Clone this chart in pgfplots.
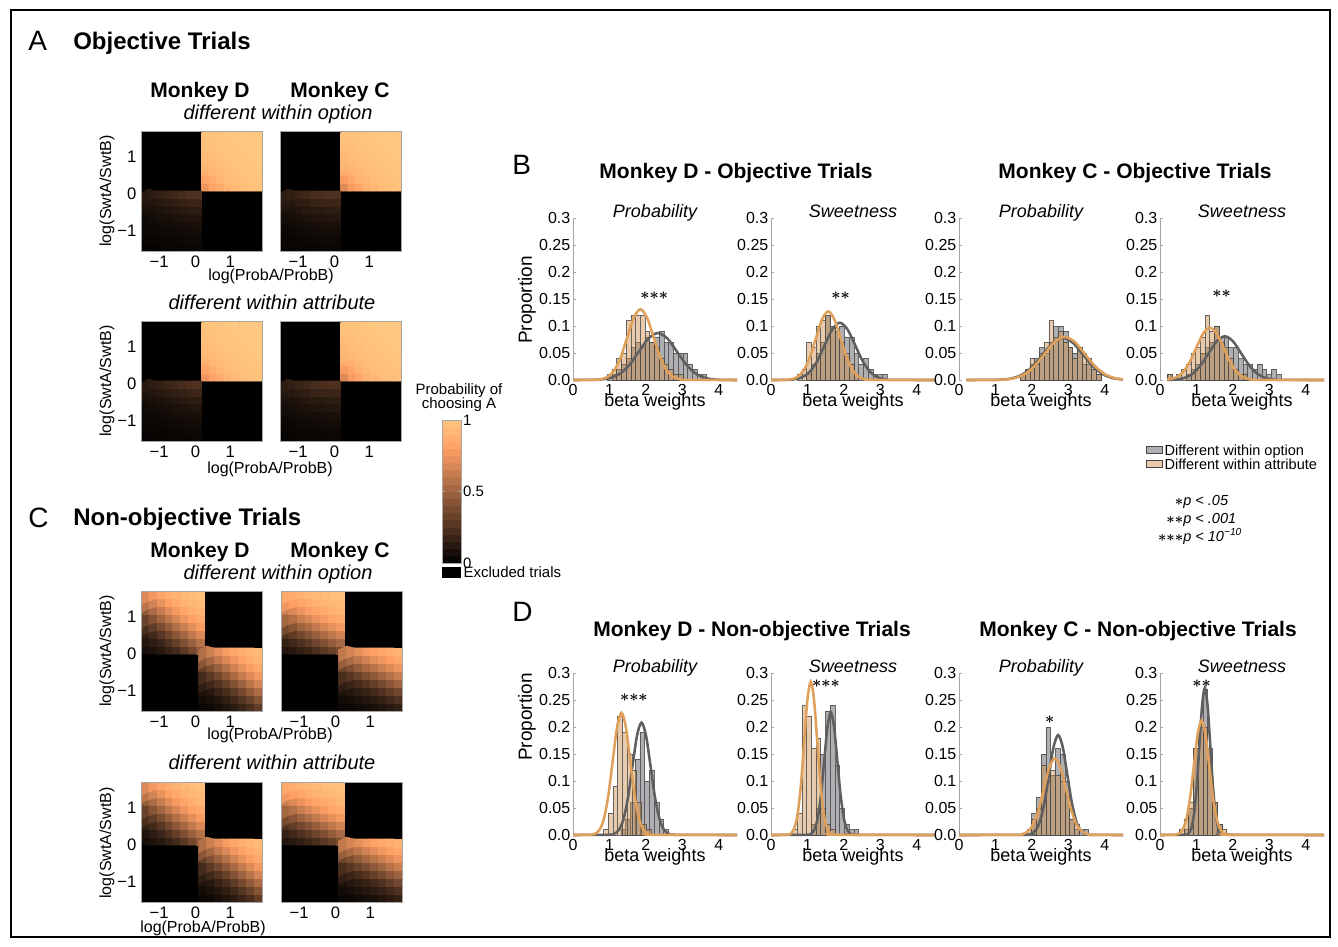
\documentclass[border=0pt]{standalone}
\usepackage{fontspec}
\setmainfont{Liberation Sans}
\usepackage{pgfplots}
\pgfplotsset{compat=1.18}
\usepackage{pgfplotstable}
\newcommand{\fs}[1]{\fontsize{#1}{#1}\selectfont}
\newcommand{\st}[1]{{\boldmath$#1$}}
\definecolor{gbar}{RGB}{122,122,128}
\definecolor{gedge}{RGB}{70,70,70}
\definecolor{tbar}{RGB}{205,140,70}
\definecolor{gcurve}{RGB}{95,95,95}
\definecolor{tcurve}{RGB}{222,160,90}
\definecolor{axgray}{RGB}{165,165,165}
\tikzset{sig/.style={font=\fs{13}, inner sep=0pt}}
\pgfplotsset{colormap={copper}{rgb(0cm)=(0,0,0); rgb(8cm)=(1,0.625,0.398); rgb(10cm)=(1,0.7812,0.4975)}}
\pgfplotsset{
heat/.style={scale only axis, width=90.75pt, height=90pt, anchor=south west,
  xmin=0,xmax=16,ymin=0,ymax=16, axis background/.style={fill=black}, axis on top,
  axis line style={axgray, line width=0.4pt},
  xtick={2.4,7.2,11.8}, xticklabels={−1,0,1},
  ytick={2.7,7.6,12.6}, yticklabels={−1,0,1},
  major tick length=0pt, tick label style={font=\fs{12.5}},
  colormap name=copper, point meta min=0, point meta max=1},
hist/.style={scale only axis, width=123pt, height=121.5pt, anchor=south west,
  xmin=0,xmax=4.5,ymin=0,ymax=0.3,
  axis x line*=bottom, axis y line*=left,
  x axis line style={draw=none}, y axis line style={draw=axgray, line width=0.6pt},
  xtick={0,1,2,3,4}, xticklabels={0,1,2,3,4},
  ytick={0,0.05,0.1,0.15,0.2,0.25,0.3}, yticklabels={0.0,0.05,0.1,0.15,0.2,0.25,0.3},
  xtick style={draw=none}, ytick style={draw=axgray, line width=0.6pt},
  tick align=inside, major tick length=2.5pt,
  tick label style={font=\fs{12}}, yticklabel style={xshift=1.5pt},
  xlabel={beta weights},
  xlabel style={at={(axis description cs:0.5,0)}, anchor=base, yshift=-19.5pt, font=\fs{13.5}},
  title style={at={(axis description cs:0.5,1)}, anchor=base, yshift=-5.5pt, font=\fs{13.5}\itshape},
  clip=false},
gb/.style={ybar, bar width=0.13, bar shift=0pt, fill=gbar, fill opacity=0.6, draw=gedge, draw opacity=0.8, line width=0.4pt},
tb/.style={ybar, bar width=0.13, bar shift=0pt, fill=tbar, fill opacity=0.45, draw=gedge, draw opacity=0.8, line width=0.4pt},
gl/.style={gcurve, line width=1.9pt, smooth},
tl/.style={tcurve, line width=1.9pt, smooth}
}
\newcommand{\hq}[4]{\addplot[matrix plot*, mesh/cols=8, point meta=explicit] table[x index=0, y index=0, x expr={#2+#4*(mod(\coordindex,8)+0.5)}, y expr={#3+#4*(floor(\coordindex/8)+0.5)}, meta index=0] {#1};}

% Panel A quadrants (8x8 cells, rows bottom to top)
\pgfplotstableread[row sep=\\,header=false]{
0.75\\0.82\\0.87\\0.91\\0.94\\0.96\\0.97\\0.98\\
0.82\\0.87\\0.91\\0.94\\0.96\\0.97\\0.98\\0.99\\
0.87\\0.91\\0.94\\0.96\\0.97\\0.98\\0.99\\0.99\\
0.91\\0.94\\0.96\\0.97\\0.98\\0.99\\0.99\\1\\
0.94\\0.96\\0.97\\0.98\\0.99\\0.99\\1\\1\\
0.96\\0.97\\0.98\\0.99\\0.99\\1\\1\\1\\
0.97\\0.98\\0.99\\0.99\\1\\1\\1\\1\\
0.98\\0.99\\0.99\\1\\1\\1\\1\\1\\
}\ATRd
\pgfplotstableread[row sep=\\,header=false]{
0.70\\0.78\\0.84\\0.89\\0.92\\0.95\\0.96\\0.97\\
0.78\\0.84\\0.89\\0.92\\0.95\\0.96\\0.97\\0.98\\
0.85\\0.89\\0.92\\0.95\\0.96\\0.97\\0.98\\0.99\\
0.90\\0.93\\0.95\\0.96\\0.97\\0.98\\0.99\\0.99\\
0.93\\0.95\\0.96\\0.97\\0.98\\0.99\\0.99\\1\\
0.95\\0.96\\0.97\\0.98\\0.99\\0.99\\1\\1\\
0.96\\0.97\\0.98\\0.99\\0.99\\1\\1\\1\\
0.97\\0.98\\0.99\\0.99\\1\\1\\1\\1\\
}\ATRc
\pgfplotstableread[row sep=\\,header=false]{
0.016\\0.019\\0.021\\0.024\\0.027\\0.029\\0.032\\0.033\\
0.021\\0.025\\0.028\\0.032\\0.036\\0.039\\0.043\\0.044\\
0.028\\0.033\\0.038\\0.043\\0.047\\0.052\\0.057\\0.059\\
0.038\\0.044\\0.051\\0.057\\0.063\\0.07\\0.076\\0.079\\
0.051\\0.059\\0.068\\0.076\\0.084\\0.093\\0.101\\0.105\\
0.068\\0.079\\0.09\\0.101\\0.113\\0.124\\0.135\\0.14\\
0.09\\0.105\\0.12\\0.135\\0.15\\0.165\\0.18\\0.19\\
0.12\\0.14\\0.16\\0.18\\0.2\\0.22\\0.24\\0.25\\
}\ABLd
\pgfplotstableread[row sep=\\,header=false]{
0.018\\0.021\\0.024\\0.027\\0.029\\0.031\\0.033\\0.034\\
0.025\\0.028\\0.032\\0.036\\0.039\\0.042\\0.045\\0.045\\
0.033\\0.038\\0.043\\0.048\\0.052\\0.056\\0.06\\0.06\\
0.045\\0.05\\0.06\\0.065\\0.07\\0.075\\0.08\\0.08\\
0.06\\0.07\\0.08\\0.09\\0.1\\0.1\\0.11\\0.11\\
0.08\\0.09\\0.1\\0.12\\0.13\\0.13\\0.14\\0.14\\
0.11\\0.12\\0.14\\0.15\\0.17\\0.18\\0.18\\0.19\\
0.14\\0.16\\0.18\\0.2\\0.22\\0.23\\0.24\\0.24\\
}\ABLc
% Panel C quadrants
\pgfplotstableread[row sep=\\,header=false]{
0.064\\0.089\\0.122\\0.165\\0.218\\0.284\\0.36\\0.444\\
0.102\\0.139\\0.186\\0.245\\0.315\\0.395\\0.481\\0.568\\
0.158\\0.21\\0.274\\0.349\\0.432\\0.519\\0.605\\0.685\\
0.236\\0.305\\0.383\\0.469\\0.556\\0.64\\0.716\\0.782\\
0.337\\0.419\\0.506\\0.593\\0.674\\0.746\\0.806\\0.855\\
0.456\\0.544\\0.628\\0.706\\0.773\\0.829\\0.873\\0.907\\
0.581\\0.663\\0.736\\0.798\\0.849\\0.888\\0.919\\0.941\\
0.695\\0.764\\0.821\\0.867\\0.902\\0.929\\0.949\\0.964\\
}\CTLd
\pgfplotstableread[row sep=\\,header=false]{
0.036\\0.051\\0.071\\0.098\\0.133\\0.179\\0.236\\0.305\\
0.059\\0.081\\0.112\\0.151\\0.202\\0.264\\0.337\\0.419\\
0.093\\0.127\\0.171\\0.227\\0.294\\0.372\\0.456\\0.544\\
0.145\\0.194\\0.254\\0.326\\0.407\\0.494\\0.581\\0.663\\
0.218\\0.284\\0.36\\0.444\\0.531\\0.617\\0.695\\0.764\\
0.315\\0.395\\0.481\\0.568\\0.651\\0.726\\0.79\\0.842\\
0.432\\0.519\\0.605\\0.685\\0.755\\0.814\\0.861\\0.898\\
0.556\\0.64\\0.716\\0.782\\0.835\\0.878\\0.911\\0.936\\
}\CBRd
\pgfplotstableread[row sep=\\,header=false]{
0.101\\0.126\\0.156\\0.192\\0.233\\0.28\\0.333\\0.39\\
0.164\\0.2\\0.243\\0.291\\0.345\\0.403\\0.464\\0.525\\
0.253\\0.303\\0.358\\0.416\\0.477\\0.539\\0.6\\0.657\\
0.37\\0.429\\0.491\\0.553\\0.613\\0.67\\0.722\\0.769\\
0.505\\0.566\\0.626\\0.682\\0.733\\0.778\\0.818\\0.852\\
0.639\\0.693\\0.743\\0.788\\0.826\\0.859\\0.886\\0.909\\
0.754\\0.797\\0.834\\0.865\\0.892\\0.913\\0.931\\0.945\\
0.841\\0.872\\0.897\\0.918\\0.935\\0.948\\0.959\\0.968\\
}\CTLc
\pgfplotstableread[row sep=\\,header=false]{
0.032\\0.041\\0.052\\0.065\\0.082\\0.103\\0.128\\0.159\\
0.055\\0.069\\0.087\\0.108\\0.135\\0.166\\0.203\\0.246\\
0.091\\0.114\\0.141\\0.174\\0.212\\0.257\\0.307\\0.361\\
0.148\\0.182\\0.222\\0.267\\0.318\\0.374\\0.434\\0.495\\
0.231\\0.278\\0.33\\0.387\\0.447\\0.509\\0.571\\0.63\\
0.343\\0.4\\0.461\\0.523\\0.584\\0.642\\0.697\\0.747\\
0.475\\0.536\\0.597\\0.655\\0.709\\0.757\\0.8\\0.836\\
0.61\\0.667\\0.72\\0.767\\0.808\\0.844\\0.874\\0.899\\
}\CBRc

\begin{document}
\begin{tikzpicture}
\begin{scope}[x=0.75pt,y=-0.75pt]
\path[use as bounding box] (0,0) rectangle (1338,946);
\draw[line width=1.5pt] (11,10) rectangle (1330,937);
% Panel A
\node[anchor=base west, font=\fs{21}, inner sep=0pt] at (28,50) {A};
\node[anchor=base west, font=\fs{18}\bfseries, inner sep=0pt] at (73,49) {Objective Trials};
\node[anchor=base, font=\fs{15.75}\bfseries] at (200,97) {Monkey D};
\node[anchor=base, font=\fs{15.75}\bfseries] at (340,97) {Monkey C};
\node[anchor=base, font=\fs{15}\itshape] at (278,119) {different within option};
\node[anchor=base, font=\fs{15}\itshape] at (272,309) {different within attribute};
\node[font=\fs{12}] at (271,276) {log(ProbA/ProbB)};
\node[font=\fs{12}] at (270,469) {log(ProbA/ProbB)};
\node[rotate=90, font=\fs{12}] at (107,191) {log(SwtA/SwtB)};
\node[rotate=90, font=\fs{12}] at (107,381) {log(SwtA/SwtB)};
% Panel C
\node[anchor=base west, font=\fs{21}, inner sep=0pt] at (28,527) {C};
\node[anchor=base west, font=\fs{18}\bfseries, inner sep=0pt] at (73,525) {Non-objective Trials};
\node[anchor=base, font=\fs{15.75}\bfseries] at (200,557) {Monkey D};
\node[anchor=base, font=\fs{15.75}\bfseries] at (340,557) {Monkey C};
\node[anchor=base, font=\fs{15}\itshape] at (278,579) {different within option};
\node[anchor=base, font=\fs{15}\itshape] at (272,769) {different within attribute};
\node[font=\fs{12}] at (270,735) {log(ProbA/ProbB)};
\node[font=\fs{12}] at (203,928) {log(ProbA/ProbB)};
\node[rotate=90, font=\fs{12}] at (107,651) {log(SwtA/SwtB)};
\node[rotate=90, font=\fs{12}] at (107,843) {log(SwtA/SwtB)};
% colour bar captions
\node[anchor=base, font=\fs{11.25}] at (459,394) {Probability of};
\node[anchor=base, font=\fs{11.25}] at (459,408) {choosing A};
\fill[black] (442,567) rectangle (461,578);
\node[anchor=base west, font=\fs{11.25}, inner sep=1pt] at (462,577) {Excluded trials};
% Panels B and D
\node[anchor=base west, font=\fs{21}, inner sep=0pt] at (512,174) {B};
\node[anchor=base, font=\fs{15.75}\bfseries] at (736,178) {Monkey D - Objective Trials};
\node[anchor=base, font=\fs{15.75}\bfseries] at (1135,178) {Monkey C - Objective Trials};
\node[anchor=base west, font=\fs{21}, inner sep=0pt] at (512,621) {D};
\node[anchor=base, font=\fs{15.75}\bfseries] at (752,636) {Monkey D - Non-objective Trials};
\node[anchor=base, font=\fs{15.75}\bfseries] at (1138,636) {Monkey C - Non-objective Trials};
\node[rotate=90, font=\fs{14.25}] at (527,300) {Proportion};
\node[rotate=90, font=\fs{14.25}] at (527,717) {Proportion};
% legend
\fill[gbar, fill opacity=0.6] (1146,446) rectangle (1162,453);
\draw[gedge, line width=0.3pt] (1146,446) rectangle (1162,453);
\fill[tbar, fill opacity=0.45] (1146,460) rectangle (1162,467);
\draw[gedge, line width=0.3pt] (1146,460) rectangle (1162,467);
\node[anchor=base west, font=\fs{10.9}, inner sep=1pt] at (1163,455) {Different within option};
\node[anchor=base west, font=\fs{10.9}, inner sep=1pt] at (1163,469) {Different within attribute};
\node[anchor=base west, font=\fs{10.9}\itshape, inner sep=0pt] at (1183,505) {\llap{\st{{\ast}}}p < .05};
\node[anchor=base west, font=\fs{10.9}\itshape, inner sep=0pt] at (1183,523) {\llap{\st{{\ast}{\ast}}}p < .001};
\node[anchor=base west, font=\fs{10.9}\itshape, inner sep=0pt] at (1183,541) {\llap{\st{{\ast}{\ast}{\ast}}}p < 10\textsuperscript{−10}};
\end{scope}

% ---------- heat maps, panel A ----------
\begin{axis}[heat, at={(105.75pt,-188.25pt)}]
\hq{\ATRd}{8}{8}{1}\hq{\ABLd}{0}{0}{1}
\end{axis}
\begin{axis}[heat, at={(210pt,-188.25pt)}, ytick=\empty]
\hq{\ATRc}{8}{8}{1}\hq{\ABLc}{0}{0}{1}
\end{axis}
\begin{axis}[heat, at={(105.75pt,-330.75pt)}]
\hq{\ATRd}{8}{8}{1}\hq{\ABLd}{0}{0}{1}
\end{axis}
\begin{axis}[heat, at={(210pt,-330.75pt)}, ytick=\empty]
\hq{\ATRc}{8}{8}{1}\hq{\ABLc}{0}{0}{1}
\end{axis}
% ---------- heat maps, panel C ----------
\begin{axis}[heat, at={(105.75pt,-533.25pt)}]
\hq{\CTLd}{0}{7.6}{1.05}\hq{\CBRd}{7.6}{0}{1.05}
\end{axis}
\begin{axis}[heat, at={(210.75pt,-533.25pt)}, ytick=\empty]
\hq{\CTLc}{0}{7.6}{1.05}\hq{\CBRc}{7.6}{0}{1.05}
\end{axis}
\begin{axis}[heat, at={(105.75pt,-676.5pt)}]
\hq{\CTLd}{0}{7.6}{1.05}\hq{\CBRd}{7.6}{0}{1.05}
\end{axis}
\begin{axis}[heat, at={(210.75pt,-676.5pt)}, ytick=\empty]
\hq{\CTLc}{0}{7.6}{1.05}\hq{\CBRc}{7.6}{0}{1.05}
\end{axis}
% ---------- colour bar ----------
\begin{axis}[at={(331.5pt,-422.25pt)}, anchor=south west, scale only axis, width=14.25pt, height=107.25pt,
  xmin=0,xmax=1,ymin=0,ymax=1, xtick=\empty, ytick={0,0.5,1}, yticklabels={0,0.5,1},
  yticklabel pos=right, tick label style={font=\fs{11.25}}, yticklabel style={xshift=-2pt},
  major tick length=2pt, tick align=inside, axis line style={axgray}, tick style={axgray},
  colormap name=copper, point meta min=0, point meta max=1, axis on top]
\addplot[matrix plot*, mesh/cols=2, point meta=y] coordinates {
(0.25,0.025)(0.75,0.025)(0.25,0.075)(0.75,0.075)(0.25,0.125)(0.75,0.125)(0.25,0.175)(0.75,0.175)
(0.25,0.225)(0.75,0.225)(0.25,0.275)(0.75,0.275)(0.25,0.325)(0.75,0.325)(0.25,0.375)(0.75,0.375)
(0.25,0.425)(0.75,0.425)(0.25,0.475)(0.75,0.475)(0.25,0.525)(0.75,0.525)(0.25,0.575)(0.75,0.575)
(0.25,0.625)(0.75,0.625)(0.25,0.675)(0.75,0.675)(0.25,0.725)(0.75,0.725)(0.25,0.775)(0.75,0.775)
(0.25,0.825)(0.75,0.825)(0.25,0.875)(0.75,0.875)(0.25,0.925)(0.75,0.925)(0.25,0.975)(0.75,0.975)};
\end{axis}

% ---------- B1 ----------
\begin{axis}[hist, at={(429.75pt,-285pt)}, title={Probability}]
\addplot[gb] coordinates {(1.13,.01)(1.26,.02)(1.39,.03)(1.52,.04)(1.65,.06)(1.78,.07)(1.91,.06)(2.04,.08)(2.17,.07)(2.30,.08)(2.43,.09)(2.56,.07)(2.69,.07)(2.82,.05)(2.95,.05)(3.08,.05)(3.21,.03)(3.34,.02)(3.47,.01)(3.60,.01)};
\addplot[tb] coordinates {(1.00,.01)(1.13,.02)(1.26,.04)(1.39,.05)(1.52,.11)(1.65,.12)(1.78,.12)(1.91,.12)(2.04,.09)(2.17,.07)(2.30,.06)(2.43,.04)(2.56,.03)(2.69,.02)(2.82,.01)(2.95,.01)};
\addplot[gl] coordinates {(0,0)(0.51,0.0002)(0.77,0.001)(1.03,0.0038)(1.29,0.0118)(1.55,0.0282)(1.81,0.0528)(2.07,0.0768)(2.33,0.087)(2.59,0.0768)(2.85,0.0528)(3.11,0.0282)(3.37,0.0118)(3.63,0.0038)(3.89,0.001)(4.15,0.0002)(4.5,0)};
\addplot[tl] coordinates {(0,0)(0.59,0.0003)(0.77,0.0015)(0.95,0.0058)(1.13,0.0177)(1.31,0.0425)(1.49,0.0795)(1.67,0.1156)(1.85,0.131)(2.03,0.1156)(2.21,0.0795)(2.39,0.0425)(2.57,0.0177)(2.75,0.0058)(2.93,0.0015)(3.11,0.0003)(4.5,0)};
\node[sig] at (axis cs:2.23,0.157) {\st{{\ast}{\ast}{\ast}}};
\end{axis}
% ---------- B2 ----------
\begin{axis}[hist, at={(578.25pt,-285pt)}, title={Sweetness}]
\addplot[gb] coordinates {(1.04,.01)(1.17,.03)(1.30,.05)(1.43,.07)(1.56,.12)(1.69,.1)(1.82,.09)(1.95,.1)(2.08,.08)(2.21,.08)(2.34,.05)(2.47,.03)(2.60,.04)(2.73,.02)(2.86,.01)(2.99,.01)(3.12,.01)};
\addplot[tb] coordinates {(0.78,.01)(0.91,.02)(1.04,.07)(1.17,.06)(1.30,.1)(1.43,.11)(1.56,.12)(1.69,.1)(1.82,.09)(1.95,.07)(2.08,.05)(2.21,.03)(2.34,.01)};
\addplot[gl] coordinates {(0,0)(0.42,0.0002)(0.63,0.0012)(0.84,0.0047)(1.05,0.0143)(1.26,0.0344)(1.47,0.0643)(1.68,0.0935)(1.89,0.106)(2.10,0.0935)(2.31,0.0643)(2.52,0.0344)(2.73,0.0143)(2.94,0.0047)(3.15,0.0012)(3.36,0.0002)(4.5,0)};
\addplot[tl] coordinates {(0,0)(0.38,0.0003)(0.55,0.0014)(0.72,0.0056)(0.89,0.0172)(1.06,0.0412)(1.23,0.077)(1.40,0.1121)(1.57,0.127)(1.74,0.1121)(1.91,0.077)(2.08,0.0412)(2.25,0.0172)(2.42,0.0056)(2.59,0.0014)(2.76,0.0003)(4.5,0)};
\node[sig] at (axis cs:1.91,0.157) {\st{{\ast}{\ast}}};
\end{axis}
% ---------- B3 ----------
\begin{axis}[hist, at={(719.25pt,-285pt)}, title={Probability}]
\addplot[gb] coordinates {(1.75,.01)(1.88,.02)(2.01,.03)(2.14,.04)(2.27,.06)(2.40,.05)(2.53,.07)(2.66,.1)(2.79,.1)(2.92,.09)(3.05,.06)(3.18,.05)(3.31,.06)(3.44,.03)(3.57,.03)(3.70,.02)(3.83,.01)};
\addplot[tb] coordinates {(1.75,.01)(1.88,.02)(2.01,.04)(2.14,.03)(2.27,.05)(2.40,.07)(2.53,.11)(2.66,.08)(2.79,.09)(2.92,.07)(3.05,.06)(3.18,.04)(3.31,.06)(3.44,.05)(3.57,.04)(3.70,.02)(3.83,.01)};
\addplot[gl] coordinates {(0.2,0)(0.925,0.0002)(1.2,0.0009)(1.475,0.0034)(1.75,0.0106)(2.025,0.0253)(2.3,0.0473)(2.575,0.0688)(2.85,0.078)(3.125,0.0688)(3.4,0.0473)(3.675,0.0253)(3.95,0.0106)(4.225,0.0034)(4.5,0.0009)};
\addplot[tl] coordinates {(0.2,0)(0.975,0.0002)(1.25,0.0009)(1.525,0.0035)(1.8,0.0108)(2.075,0.026)(2.35,0.0485)(2.625,0.0706)(2.9,0.08)(3.175,0.0706)(3.45,0.0485)(3.725,0.026)(4.0,0.0108)(4.275,0.0035)(4.5,0.0012)};
\end{axis}
% ---------- B4 ----------
\begin{axis}[hist, at={(870pt,-285pt)}, title={Sweetness}]
\addplot[gb] coordinates {(0.26,.01)(0.78,.01)(0.91,.02)(1.04,.03)(1.17,.05)(1.30,.06)(1.43,.07)(1.56,.1)(1.69,.08)(1.82,.08)(1.95,.06)(2.08,.06)(2.21,.04)(2.34,.03)(2.47,.03)(2.60,.02)(2.73,.03)(2.86,.02)(2.99,.01)(3.12,.02)(3.25,.01)};
\addplot[tb] coordinates {(0.26,.01)(0.52,.01)(0.65,.02)(0.78,.03)(0.91,.05)(1.04,.06)(1.17,.08)(1.30,.12)(1.43,.09)(1.56,.1)(1.69,.07)(1.82,.06)(1.95,.04)(2.08,.02)(2.21,.01)(2.34,.01)};
\addplot[gl] coordinates {(0.205,0.0002)(0.43,0.0009)(0.655,0.0036)(0.88,0.011)(1.105,0.0263)(1.33,0.0491)(1.555,0.0715)(1.78,0.081)(2.005,0.0715)(2.23,0.0491)(2.455,0.0263)(2.68,0.011)(2.905,0.0036)(3.13,0.0009)(3.355,0.0002)(4.5,0)};
\addplot[tl] coordinates {(0.2,0.0008)(0.42,0.0043)(0.61,0.0131)(0.8,0.0315)(0.99,0.0588)(1.18,0.0856)(1.37,0.097)(1.56,0.0856)(1.75,0.0588)(1.94,0.0315)(2.13,0.0131)(2.32,0.0043)(2.51,0.0011)(2.70,0.0002)(4.5,0)};
\node[sig] at (axis cs:1.69,0.16) {\st{{\ast}{\ast}}};
\end{axis}
% ---------- D1 ----------
\begin{axis}[hist, at={(429.75pt,-626.25pt)}, title={Probability}]
\addplot[gb] coordinates {(1.38,.01)(1.51,.03)(1.64,.06)(1.77,.14)(1.90,.19)(2.03,.1)(2.16,.12)(2.29,.06)(2.42,.03)(2.55,.01)};
\addplot[tb] coordinates {(0.90,.01)(1.03,.04)(1.16,.09)(1.29,.22)(1.42,.19)(1.55,.15)(1.68,.12)(1.81,.06)(1.94,.02)(2.07,.01)};
\addplot[gl] coordinates {(0,0)(1.005,0.0005)(1.13,0.0023)(1.255,0.0091)(1.38,0.0281)(1.505,0.0675)(1.63,0.1262)(1.755,0.1836)(1.88,0.208)(2.005,0.1836)(2.13,0.1262)(2.255,0.0675)(2.38,0.0281)(2.505,0.0091)(2.63,0.0023)(2.755,0.0005)(4.5,0)};
\addplot[tl] coordinates {(0,0)(0.49,0.0005)(0.61,0.0025)(0.73,0.0099)(0.85,0.0306)(0.97,0.0735)(1.09,0.1374)(1.21,0.1999)(1.33,0.2265)(1.45,0.1999)(1.57,0.1374)(1.69,0.0735)(1.81,0.0306)(1.93,0.0099)(2.05,0.0025)(2.17,0.0005)(4.5,0)};
\node[sig] at (axis cs:1.67,0.255) {\st{{\ast}{\ast}{\ast}}};
\end{axis}
% ---------- D2 ----------
\begin{axis}[hist, at={(578.25pt,-626.25pt)}, title={Sweetness}]
\addplot[gb] coordinates {(1.17,.02)(1.30,.05)(1.43,.15)(1.56,.23)(1.69,.24)(1.82,.13)(1.95,.05)(2.08,.02)(2.21,.01)(2.34,.01)};
\addplot[tb] coordinates {(0.65,.01)(0.78,.04)(0.91,.24)(1.04,.22)(1.17,.16)(1.30,.18)(1.43,.05)(1.56,.02)(1.69,.01)};
\addplot[gl] coordinates {(0,0)(1.01,0.0005)(1.10,0.0025)(1.19,0.01)(1.28,0.0307)(1.37,0.0737)(1.46,0.1377)(1.55,0.2003)(1.64,0.227)(1.73,0.2003)(1.82,0.1377)(1.91,0.0737)(2.0,0.0307)(2.09,0.01)(2.18,0.0025)(2.27,0.0005)(4.5,0)};
\addplot[tl] coordinates {(0,0)(0.46,0.0006)(0.55,0.0032)(0.64,0.0125)(0.73,0.0384)(0.82,0.0922)(0.91,0.1722)(1.0,0.2506)(1.09,0.284)(1.18,0.2506)(1.27,0.1722)(1.36,0.0922)(1.45,0.0384)(1.54,0.0125)(1.63,0.0032)(1.72,0.0006)(4.5,0)};
\node[sig] at (axis cs:1.51,0.281) {\st{{\ast}{\ast}{\ast}}};
\end{axis}
% ---------- D3 ----------
\begin{axis}[hist, at={(719.25pt,-626.25pt)}, title={Probability}]
\addplot[gb] coordinates {(2.06,.04)(2.19,.07)(2.32,.15)(2.45,.2)(2.58,.11)(2.71,.16)(2.84,.15)(2.97,.1)(3.10,.03)(3.23,.01)(3.36,.01)(3.49,.01)};
\addplot[tb] coordinates {(1.93,.01)(2.06,.03)(2.19,.05)(2.32,.13)(2.45,.1)(2.58,.12)(2.71,.11)(2.84,.1)(2.97,.07)(3.10,.03)(3.23,.02)};
\addplot[gl] coordinates {(0,0)(1.845,0.0004)(1.97,0.0021)(2.095,0.0081)(2.22,0.025)(2.345,0.0601)(2.47,0.1122)(2.595,0.1633)(2.72,0.185)(2.845,0.1633)(2.97,0.1122)(3.095,0.0601)(3.22,0.025)(3.345,0.0081)(3.47,0.0021)(3.595,0.0004)(4.5,0)};
\addplot[tl] coordinates {(0,0)(1.58,0.0003)(1.73,0.0016)(1.88,0.0062)(2.03,0.0192)(2.18,0.0461)(2.33,0.0861)(2.48,0.1253)(2.63,0.142)(2.78,0.1253)(2.93,0.0861)(3.08,0.0461)(3.23,0.0192)(3.38,0.0062)(3.53,0.0016)(3.68,0.0003)(4.5,0)};
\node[sig] at (axis cs:2.49,0.213) {\st{{\ast}}};
\end{axis}
% ---------- D4 ----------
\begin{axis}[hist, at={(870pt,-626.25pt)}, title={Sweetness}]
\addplot[gb] coordinates {(0.72,.01)(0.85,.05)(0.98,.16)(1.11,.2)(1.24,.27)(1.37,.16)(1.50,.06)(1.63,.02)};
\addplot[tb] coordinates {(0.59,.01)(0.72,.03)(0.85,.06)(0.98,.16)(1.11,.2)(1.24,.2)(1.37,.15)(1.50,.06)(1.63,.02)(1.76,.01)};
\addplot[gl] coordinates {(0,0)(0.705,0.0006)(0.78,0.003)(0.855,0.0119)(0.93,0.0368)(1.005,0.0883)(1.08,0.165)(1.155,0.24)(1.23,0.272)(1.305,0.24)(1.38,0.165)(1.455,0.0883)(1.53,0.0368)(1.605,0.0119)(1.68,0.003)(1.755,0.0006)(4.5,0)};
\addplot[tl] coordinates {(0,0)(0.405,0.0005)(0.51,0.0024)(0.615,0.0093)(0.72,0.0287)(0.825,0.0688)(0.93,0.1286)(1.035,0.1871)(1.14,0.212)(1.245,0.1871)(1.35,0.1286)(1.455,0.0688)(1.56,0.0287)(1.665,0.0093)(1.77,0.0024)(1.875,0.0005)(4.5,0)};
\node[sig] at (axis cs:1.14,0.281) {\st{{\ast}{\ast}}};
\end{axis}
\end{tikzpicture}
\end{document}
